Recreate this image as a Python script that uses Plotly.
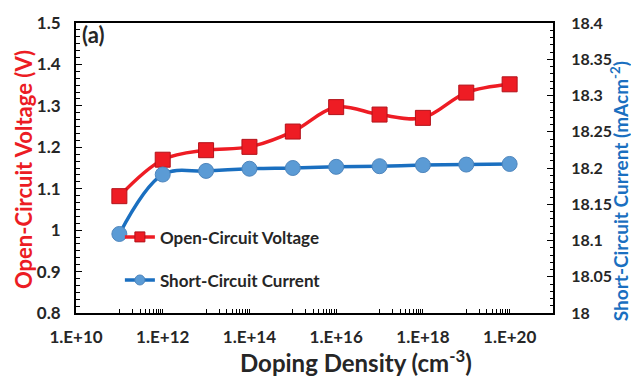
import plotly.graph_objects as go

# Doping densities (cm^-3) and device outputs
doping = [1e11, 1e12, 1e13, 1e14, 1e15, 1e16, 1e17, 1e18, 1e19, 1e20]
voc = [1.082, 1.170, 1.193, 1.201, 1.238, 1.297, 1.279, 1.271, 1.332, 1.352]
voc_err = [0.01] * 10
jsc = [18.109, 18.191, 18.196, 18.199, 18.200, 18.2016, 18.2025, 18.204, 18.2047, 18.2056]

x_tickvals = [1e10, 1e12, 1e14, 1e16, 1e18, 1e20]
x_ticktext = ["1.E+10", "1.E+12", "1.E+14", "1.E+16", "1.E+18", "1.E+20"]
voc_ticks = [0.8, 0.9, 1.0, 1.1, 1.2, 1.3, 1.4, 1.5]
voc_ticktext = ["0.8", "0.9", "1", "1.1", "1.2", "1.3", "1.4", "1.5"]
jsc_ticks = [18.0, 18.05, 18.1, 18.15, 18.2, 18.25, 18.3, 18.35, 18.4]
jsc_ticktext = ["18", "18.05", "18.1", "18.15", "18.2", "18.25", "18.3", "18.35", "18.4"]

# log minor ticks drawn in every other decade
x_minor = [k * 10.0 ** d for d in (11, 13, 15, 17, 19) for k in range(1, 10)]

FONT = "Lato"
RED = "#ee1c24"
RED_DARK = "#b3121a"
BLUE_LINE = "#1a6fc0"
BLUE_FILL = "#5b9bd5"
TEXT = "#262626"

fig = go.Figure()

fig.add_trace(go.Scatter(
    x=doping, y=voc, name="Open-Circuit Voltage", mode="lines+markers",
    line=dict(color=RED, width=3.5, shape="spline"),
    marker=dict(symbol="square", size=15, color=RED, line=dict(color=RED_DARK, width=1)),
    error_y=dict(type="data", array=voc_err, color="#6b2d5c", thickness=1.2, width=2),
    showlegend=False, yaxis="y",
))
fig.add_trace(go.Scatter(
    x=doping, y=jsc, name="Short-Circuit Current", mode="lines+markers",
    line=dict(color=BLUE_LINE, width=3.5, shape="spline"),
    marker=dict(symbol="circle", size=15, color=BLUE_FILL, line=dict(color="#4f86bd", width=1)),
    showlegend=False, yaxis="y2",
))

# legend entries with smaller symbols
fig.add_trace(go.Scatter(
    x=[None], y=[None], name="Open-Circuit Voltage", mode="lines+markers",
    line=dict(color=RED, width=3.5),
    marker=dict(symbol="square", size=10, color=RED, line=dict(color=RED_DARK, width=1)),
    legendgroup="voc",
))
fig.add_trace(go.Scatter(
    x=[None], y=[None], name="Short-Circuit Current", mode="lines+markers",
    line=dict(color=BLUE_LINE, width=3.5),
    marker=dict(symbol="circle", size=10, color=BLUE_FILL, line=dict(color="#4f86bd", width=1)),
    legendgroup="jsc", yaxis="y2",
))

tickfont = dict(family=FONT, size=17, color=TEXT, weight="bold")
tickfont_right = dict(family=FONT, size=16, color=TEXT, weight="bold")

fig.update_layout(
    width=631, height=380,
    margin=dict(l=76, r=78, t=13, b=67),
    paper_bgcolor="white", plot_bgcolor="white",
    font=dict(family=FONT, color=TEXT),
    xaxis=dict(
        type="log", range=[10, 21],
        tickmode="array", tickvals=x_tickvals, ticktext=x_ticktext,
        tickfont=tickfont, ticks="inside", ticklen=4, tickwidth=1, tickcolor="black",
        minor=dict(tickmode="array", tickvals=x_minor, ticks="inside", ticklen=4,
                   tickwidth=1, tickcolor="black", showgrid=False),
        showline=True, linecolor="black", linewidth=2, mirror=True,
        showgrid=False, zeroline=False, ticklabelstandoff=8,
    ),
    yaxis=dict(
        range=[0.8, 1.5], tickmode="array", tickvals=voc_ticks, ticktext=voc_ticktext,
        tickfont=tickfont, ticks="inside", ticklen=6, tickwidth=1, tickcolor="black",
        minor=dict(dtick=0.1 / 6, tick0=0.8, ticks="inside", ticklen=3.5,
                   tickwidth=1, tickcolor="black", showgrid=False),
        showline=True, linecolor="black", linewidth=2,
        showgrid=False, zeroline=False, ticklabelstandoff=10,
    ),
    yaxis2=dict(
        overlaying="y", side="right",
        range=[18.0, 18.4], tickmode="array", tickvals=jsc_ticks, ticktext=jsc_ticktext,
        tickfont=tickfont_right, ticks="inside", ticklen=6, tickwidth=1, tickcolor="black",
        minor=dict(dtick=0.01, tick0=18.0, ticks="inside", ticklen=3.5,
                   tickwidth=1, tickcolor="black", showgrid=False),
        showline=True, linecolor="black", linewidth=2,
        showgrid=False, zeroline=False, ticklabelstandoff=13,
    ),
    legend=dict(
        x=0.092, y=0.323, xanchor="left", yanchor="top",
        bgcolor="rgba(0,0,0,0)", traceorder="grouped", tracegroupgap=18,
        font=dict(family=FONT, size=17, color=TEXT, weight="bold"),
        itemsizing="trace",
    ),
    annotations=[
        dict(text="(a)", x=0.008, y=0.96, xref="paper", yref="paper",
             xanchor="left", yanchor="middle", showarrow=False,
             font=dict(family=FONT, size=22, color=TEXT, weight="bold")),
        dict(text="Open-Circuit Voltage (V)", x=(23 - 76) / 477, y=0.493,
             xref="paper", yref="paper",
             xanchor="center", yanchor="middle", textangle=-90, showarrow=False,
             font=dict(family=FONT, size=22, color="#ec1c24", weight="bold")),
        dict(text="Short-Circuit Current (mAcm<sup>-2</sup>)", x=(619 - 76) / 477, y=0.42,
             xref="paper", yref="paper", xanchor="center", yanchor="middle",
             textangle=-90, showarrow=False,
             font=dict(family=FONT, size=19, color="#1a6fc0", weight="bold")),
        dict(text="Doping Density (cm<sup>-3</sup>)", x=0.587, y=-0.167,
             xref="paper", yref="paper", xanchor="center", yanchor="middle",
             showarrow=False,
             font=dict(family=FONT, size=24, color=TEXT, weight="bold")),
    ],
)

fig.write_html("out.html")
